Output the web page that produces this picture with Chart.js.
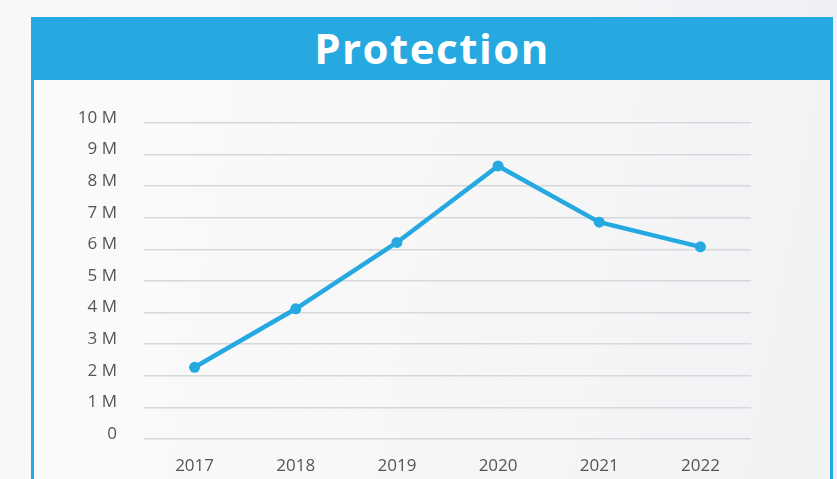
<!DOCTYPE html>
<html>
<head>
<meta charset="utf-8">
<script src="https://cdn.jsdelivr.net/npm/chart.js@4/dist/chart.umd.min.js"></script>
<style>
  html, body { margin: 0; padding: 0; }
  body {
    width: 837px; height: 479px; overflow: hidden; position: relative;
    background: linear-gradient(110deg, #f8f9fb 0%, #f3f4f6 60%, #eceef1 100%);
    font-family: "Open Sans", sans-serif;
  }
  .panel {
    position: absolute; left: 31px; top: 17px; width: 796px; height: 480px;
    border-left: 3px solid #25a9e0; border-right: 3px solid #25a9e0;
    background: linear-gradient(100deg, #fbfbfc 0%, #f6f6f7 60%, #f1f2f4 100%);
  }
  .header {
    position: absolute; left: 31px; top: 17px; width: 802px; height: 63px;
    background: #25a9e0; color: #fff; text-align: center;
    font: bold 42px "Open Sans", sans-serif; line-height: 61px; letter-spacing: 1.5px;
  }
  #wrap { position: absolute; left: 34px; top: 80px; width: 796px; height: 399px; }
</style>
</head>
<body>
<div class="panel"></div>
<div class="header">Protection</div>
<div id="wrap"><canvas id="chart"></canvas></div>
<script>
const years = ['2017', '2018', '2019', '2020', '2021', '2022'];
const protection = [2.27, 4.12, 6.22, 8.64, 6.86, 6.08];
const tickLabels = ['0', '1 M', '2 M', '3 M', '4 M', '5 M', '6 M', '7 M', '8 M', '9 M', '10 M'];

const blue = '#25a9e0';
const ctx = document.getElementById('chart').getContext('2d');

new Chart(ctx, {
    type: 'line',
    data: {
        labels: years,
        datasets: [{
            data: protection,
            borderColor: blue,
            backgroundColor: blue,
            borderWidth: 4.5,
            pointRadius: 5.5,
            pointBackgroundColor: blue,
            pointBorderWidth: 0,
            tension: 0
        }]
    },
    options: {
        responsive: true,
        maintainAspectRatio: false,
        animation: false,
        layout: { padding: { top: 43, right: 79, bottom: 0, left: 0 } },
        plugins: { legend: { display: false }, tooltip: { enabled: false } },
        scales: {
            x: {
                offset: true,
                grid: { display: false, drawTicks: false },
                border: { display: false },
                ticks: { color: '#555', padding: 17, font: { family: 'Open Sans', size: 17 } },
                afterFit: s => { s.height = 40; }
            },
            y: {
                min: 0,
                max: 10,
                grid: { color: '#d6d8db', lineWidth: 1.5, drawTicks: false },
                border: { display: false },
                ticks: {
                    stepSize: 1,
                    color: '#555',
                    padding: 27,
                    labelOffset: -5,
                    font: { family: 'Open Sans', size: 17 },
                    callback: v => tickLabels[v]
                },
                afterFit: s => { s.width = 110; }
            }
        }
    }
});
</script>
</body>
</html>
